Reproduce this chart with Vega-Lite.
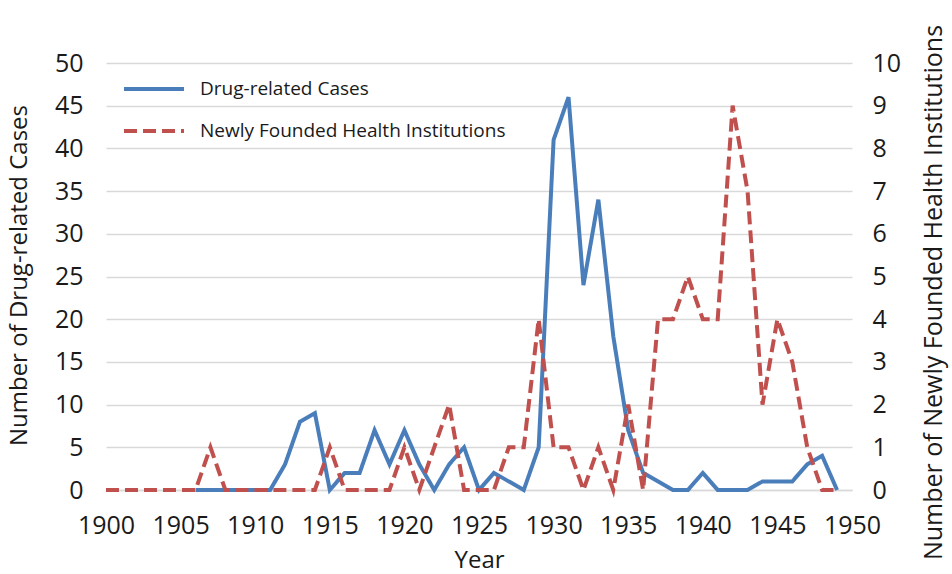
{
  "$schema": "https://vega.github.io/schema/vega-lite/v6.json",
  "autosize": {"type": "none"},
  "width": 746,
  "height": 427,
  "padding": {"left": 106, "top": 63, "right": 100, "bottom": 84},
  "background": "white",
  "config": {
    "view": {"stroke": null},
    "font": "Open Sans",
    "axis": {"labelFont": "Open Sans", "titleFont": "Open Sans", "labelColor": "#1a1a1a", "titleColor": "#1a1a1a", "titleFontWeight": "normal"},
    "legend": {"labelFont": "Open Sans"}
  },
  "data": {
    "values": [
      {"year": 1906, "series": "Drug-related Cases", "value": 0},
      {"year": 1907, "series": "Drug-related Cases", "value": 0},
      {"year": 1908, "series": "Drug-related Cases", "value": 0},
      {"year": 1909, "series": "Drug-related Cases", "value": 0},
      {"year": 1910, "series": "Drug-related Cases", "value": 0},
      {"year": 1911, "series": "Drug-related Cases", "value": 0},
      {"year": 1912, "series": "Drug-related Cases", "value": 3},
      {"year": 1913, "series": "Drug-related Cases", "value": 8},
      {"year": 1914, "series": "Drug-related Cases", "value": 9},
      {"year": 1915, "series": "Drug-related Cases", "value": 0},
      {"year": 1916, "series": "Drug-related Cases", "value": 2},
      {"year": 1917, "series": "Drug-related Cases", "value": 2},
      {"year": 1918, "series": "Drug-related Cases", "value": 7},
      {"year": 1919, "series": "Drug-related Cases", "value": 3},
      {"year": 1920, "series": "Drug-related Cases", "value": 7},
      {"year": 1921, "series": "Drug-related Cases", "value": 3},
      {"year": 1922, "series": "Drug-related Cases", "value": 0},
      {"year": 1923, "series": "Drug-related Cases", "value": 3},
      {"year": 1924, "series": "Drug-related Cases", "value": 5},
      {"year": 1925, "series": "Drug-related Cases", "value": 0},
      {"year": 1926, "series": "Drug-related Cases", "value": 2},
      {"year": 1927, "series": "Drug-related Cases", "value": 1},
      {"year": 1928, "series": "Drug-related Cases", "value": 0},
      {"year": 1929, "series": "Drug-related Cases", "value": 5},
      {"year": 1930, "series": "Drug-related Cases", "value": 41},
      {"year": 1931, "series": "Drug-related Cases", "value": 46},
      {"year": 1932, "series": "Drug-related Cases", "value": 24},
      {"year": 1933, "series": "Drug-related Cases", "value": 34},
      {"year": 1934, "series": "Drug-related Cases", "value": 18},
      {"year": 1935, "series": "Drug-related Cases", "value": 7},
      {"year": 1936, "series": "Drug-related Cases", "value": 2},
      {"year": 1937, "series": "Drug-related Cases", "value": 1},
      {"year": 1938, "series": "Drug-related Cases", "value": 0},
      {"year": 1939, "series": "Drug-related Cases", "value": 0},
      {"year": 1940, "series": "Drug-related Cases", "value": 2},
      {"year": 1941, "series": "Drug-related Cases", "value": 0},
      {"year": 1942, "series": "Drug-related Cases", "value": 0},
      {"year": 1943, "series": "Drug-related Cases", "value": 0},
      {"year": 1944, "series": "Drug-related Cases", "value": 1},
      {"year": 1945, "series": "Drug-related Cases", "value": 1},
      {"year": 1946, "series": "Drug-related Cases", "value": 1},
      {"year": 1947, "series": "Drug-related Cases", "value": 3},
      {"year": 1948, "series": "Drug-related Cases", "value": 4},
      {"year": 1949, "series": "Drug-related Cases", "value": 0},
      {"year": 1900, "series": "Newly Founded Health Institutions", "value": 0},
      {"year": 1901, "series": "Newly Founded Health Institutions", "value": 0},
      {"year": 1902, "series": "Newly Founded Health Institutions", "value": 0},
      {"year": 1903, "series": "Newly Founded Health Institutions", "value": 0},
      {"year": 1904, "series": "Newly Founded Health Institutions", "value": 0},
      {"year": 1905, "series": "Newly Founded Health Institutions", "value": 0},
      {"year": 1906, "series": "Newly Founded Health Institutions", "value": 0},
      {"year": 1907, "series": "Newly Founded Health Institutions", "value": 1},
      {"year": 1908, "series": "Newly Founded Health Institutions", "value": 0},
      {"year": 1909, "series": "Newly Founded Health Institutions", "value": 0},
      {"year": 1910, "series": "Newly Founded Health Institutions", "value": 0},
      {"year": 1911, "series": "Newly Founded Health Institutions", "value": 0},
      {"year": 1912, "series": "Newly Founded Health Institutions", "value": 0},
      {"year": 1913, "series": "Newly Founded Health Institutions", "value": 0},
      {"year": 1914, "series": "Newly Founded Health Institutions", "value": 0},
      {"year": 1915, "series": "Newly Founded Health Institutions", "value": 1},
      {"year": 1916, "series": "Newly Founded Health Institutions", "value": 0},
      {"year": 1917, "series": "Newly Founded Health Institutions", "value": 0},
      {"year": 1918, "series": "Newly Founded Health Institutions", "value": 0},
      {"year": 1919, "series": "Newly Founded Health Institutions", "value": 0},
      {"year": 1920, "series": "Newly Founded Health Institutions", "value": 1},
      {"year": 1921, "series": "Newly Founded Health Institutions", "value": 0},
      {"year": 1922, "series": "Newly Founded Health Institutions", "value": 1},
      {"year": 1923, "series": "Newly Founded Health Institutions", "value": 2},
      {"year": 1924, "series": "Newly Founded Health Institutions", "value": 0},
      {"year": 1925, "series": "Newly Founded Health Institutions", "value": 0},
      {"year": 1926, "series": "Newly Founded Health Institutions", "value": 0},
      {"year": 1927, "series": "Newly Founded Health Institutions", "value": 1},
      {"year": 1928, "series": "Newly Founded Health Institutions", "value": 1},
      {"year": 1929, "series": "Newly Founded Health Institutions", "value": 4},
      {"year": 1930, "series": "Newly Founded Health Institutions", "value": 1},
      {"year": 1931, "series": "Newly Founded Health Institutions", "value": 1},
      {"year": 1932, "series": "Newly Founded Health Institutions", "value": 0},
      {"year": 1933, "series": "Newly Founded Health Institutions", "value": 1},
      {"year": 1934, "series": "Newly Founded Health Institutions", "value": 0},
      {"year": 1935, "series": "Newly Founded Health Institutions", "value": 2},
      {"year": 1936, "series": "Newly Founded Health Institutions", "value": 0},
      {"year": 1937, "series": "Newly Founded Health Institutions", "value": 4},
      {"year": 1938, "series": "Newly Founded Health Institutions", "value": 4},
      {"year": 1939, "series": "Newly Founded Health Institutions", "value": 5},
      {"year": 1940, "series": "Newly Founded Health Institutions", "value": 4},
      {"year": 1941, "series": "Newly Founded Health Institutions", "value": 4},
      {"year": 1942, "series": "Newly Founded Health Institutions", "value": 9},
      {"year": 1943, "series": "Newly Founded Health Institutions", "value": 7},
      {"year": 1944, "series": "Newly Founded Health Institutions", "value": 2},
      {"year": 1945, "series": "Newly Founded Health Institutions", "value": 4},
      {"year": 1946, "series": "Newly Founded Health Institutions", "value": 3},
      {"year": 1947, "series": "Newly Founded Health Institutions", "value": 1},
      {"year": 1948, "series": "Newly Founded Health Institutions", "value": 0},
      {"year": 1949, "series": "Newly Founded Health Institutions", "value": 0}
    ]
  },
  "encoding": {
    "x": {
      "field": "year", "type": "quantitative",
      "scale": {"domain": [1900, 1950], "nice": false, "zero": false},
      "axis": {"title": "Year", "values": [1900,1905,1910,1915,1920,1925,1930,1935,1940,1945,1950], "format": "d", "labelFontSize": 25, "titleFontSize": 24, "labelPadding": 23, "titleX": 373, "titleY": 70, "titleBaseline": "middle", "ticks": false, "domainColor": "#d9d9d9", "domainWidth": 1.5, "grid": false, "labelFlush": false}
    },
    "color": {
      "field": "series", "type": "nominal",
      "scale": {"domain": ["Drug-related Cases", "Newly Founded Health Institutions"], "range": ["#4a7ebb", "#c0504d"]},
      "legend": {"title": null, "orient": "none", "legendX": 16, "legendY": -6, "symbolType": "stroke", "symbolSize": 3600, "symbolStrokeWidth": 4, "labelFontSize": 19, "labelColor": "#1a1a1a", "labelLimit": 500, "rowPadding": -17, "labelOffset": 14, "padding": 0}
    },
    "strokeDash": {
      "field": "series", "type": "nominal",
      "scale": {"domain": ["Drug-related Cases", "Newly Founded Health Institutions"], "range": [[1, 0], [13, 6]]},
      "legend": {"title": null, "orient": "none", "legendX": 16, "legendY": -6, "symbolType": "stroke", "symbolSize": 3600, "symbolStrokeWidth": 4, "labelFontSize": 19, "labelColor": "#1a1a1a", "labelLimit": 500, "rowPadding": -17, "labelOffset": 14, "padding": 0}
    }
  },
  "layer": [
    {
      "transform": [{"filter": "datum.series === 'Drug-related Cases'"}],
      "mark": {"type": "line", "strokeWidth": 4, "strokeJoin": "miter"},
      "encoding": {
        "y": {
          "field": "value", "type": "quantitative",
          "scale": {"domain": [0, 50], "nice": false},
          "axis": {"title": "Number of Drug-related Cases", "orient": "left", "values": [0,5,10,15,20,25,30,35,40,45,50], "labelFontSize": 25, "titleFontSize": 24, "labelPadding": 23, "titleX": -87, "titleY": 212, "titleBaseline": "middle", "titleAngle": 270, "ticks": false, "domain": false, "grid": true, "gridColor": "#d9d9d9", "gridWidth": 1.5}
        }
      }
    },
    {
      "transform": [{"filter": "datum.series === 'Newly Founded Health Institutions'"}],
      "mark": {"type": "line", "strokeWidth": 4, "strokeJoin": "miter"},
      "encoding": {
        "y": {
          "field": "value", "type": "quantitative",
          "scale": {"domain": [0, 10], "nice": false},
          "axis": {"title": "Number of Newly Founded Health Institutions", "orient": "right", "values": [0,1,2,3,4,5,6,7,8,9,10], "labelFontSize": 25, "titleFontSize": 25, "labelPadding": 20, "titleX": 81, "titleY": 229, "titleBaseline": "middle", "titleAngle": 270, "ticks": false, "domain": false, "grid": false}
        }
      }
    }
  ],
  "resolve": {"scale": {"y": "independent"}}
}
